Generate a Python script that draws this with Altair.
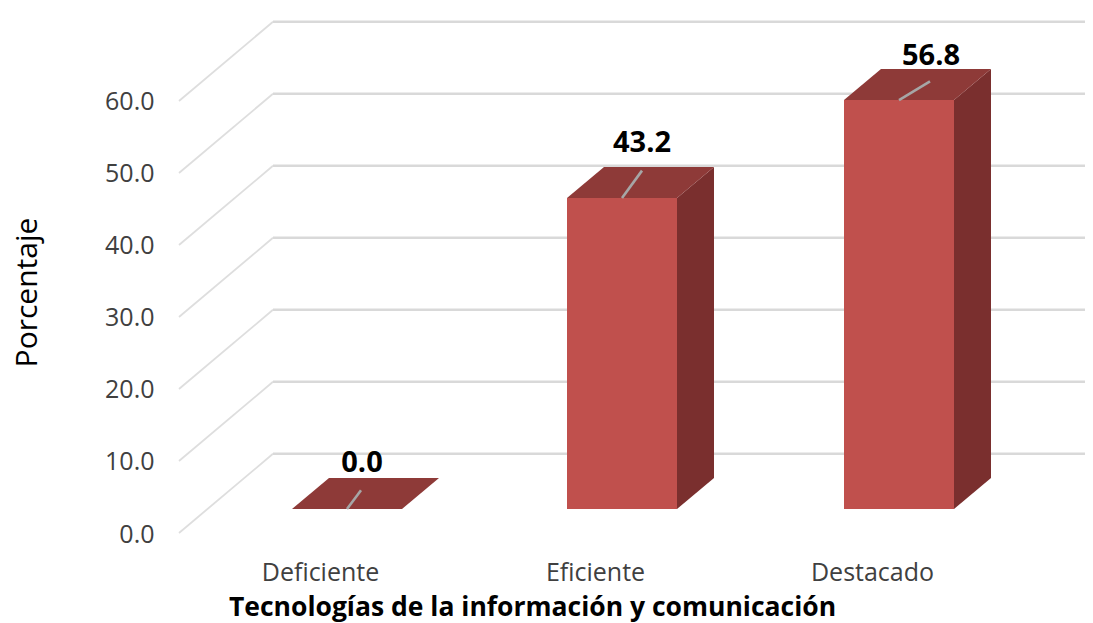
import altair as alt
import pandas as pd

# Chart values
categories = ["Deficiente", "Eficiente", "Destacado"]
values = [0.0, 43.2, 56.8]
tick_values = [0, 10, 20, 30, 40, 50, 60]
label_text = ["0.0", "43.2", "56.8"]

# 3D geometry in scale units (x units = horizontal slots, y units = percentage points)
bar_left = [113, 388, 665]
bar_width = 110
cat_label_x = [141, 416, 693]
depth_x = 37
depth_y = 4.3
floor_y = 3.33
wall_x = 94
wall_y = 11
x_end = 906
y_top = 71.11
leader_dx = [14, 20, 31]
leader_dy = [2.6, 3.8, 2.6]
label_x = [183, 463, 752]
label_y = [9.7, 54.1, 66.2]

FONT = "Open Sans"
x_scale = alt.Scale(domain=[0, x_end], range=[0, x_end], nice=False, zero=False)
y_scale = alt.Scale(domain=[0, y_top], nice=False, zero=False)

expr = "{" + ",".join(f"'{x}':'{c}'" for x, c in zip(cat_label_x, categories)) + "}[datum.value]"
x_axis = alt.Axis(
    values=cat_label_x, labelExpr=expr, domain=False, ticks=False, grid=False,
    labelFont=FONT, labelFontSize=25, labelColor="#404040", labelPadding=27,
    title="Tecnologías de la información y comunicación", titleFont=FONT, titleFontSize=26.5,
    titleFontWeight="bold", titleColor="#000000", titleX=353, titleY=61, labelFlush=False,
)
y_axis = alt.Axis(
    values=tick_values, format=".1f", domain=False, ticks=False, grid=False,
    labelFont=FONT, labelFontSize=25, labelColor="#404040", labelPadding=25, labelOffset=1,
    title="Porcentaje", titleFont=FONT, titleFontSize=30, titleFontWeight="normal",
    titleColor="#000000", titleX=-137, titleY=271,
)
X = alt.X("x:Q", scale=x_scale, axis=x_axis)
Y = alt.Y("y:Q", scale=y_scale, axis=y_axis)

grid_rows = []
for v in tick_values:
    grid_rows += [
        {"level": v, "x": 0, "y": v, "part": "slant"},
        {"level": v, "x": wall_x, "y": v + wall_y, "part": "slant"},
        {"level": v, "x": wall_x, "y": v + wall_y, "part": "wall"},
        {"level": v, "x": x_end, "y": v + wall_y, "part": "wall"},
    ]
grid_df = pd.DataFrame(grid_rows)

slant = alt.Chart(grid_df[grid_df.part == "slant"]).mark_line(color="#dedede", strokeWidth=1.8).encode(
    x=X, y=Y, detail="level:N",
)
wall = alt.Chart(grid_df[grid_df.part == "wall"]).mark_line(color="#d9d9d9", strokeWidth=2.4).encode(
    x=X, y=Y, detail="level:N",
)

front_df = pd.DataFrame({
    "cat": categories,
    "x": bar_left,
    "x2": [b + bar_width for b in bar_left],
    "y": [floor_y] * 3,
    "y2": [floor_y + v for v in values],
})
front = alt.Chart(front_df).mark_rect(color="#C0504D").encode(
    x=X, x2="x2:Q", y=Y, y2="y2:Q",
)

top_rows, side_rows, leader_rows = [], [], []
for c, b, v, ldx, ldy in zip(categories, bar_left, values, leader_dx, leader_dy):
    t = floor_y + v
    top_rows += [
        {"cat": c, "y": t, "x": b, "x2": b + bar_width},
        {"cat": c, "y": t + depth_y, "x": b + depth_x, "x2": b + bar_width + depth_x},
    ]
    r = b + bar_width
    side_rows += [
        {"cat": c, "x": r, "y": floor_y, "y2": t},
        {"cat": c, "x": r + depth_x, "y": floor_y + depth_y, "y2": t + depth_y},
    ]
    m = b + bar_width / 2
    leader_rows += [
        {"cat": c, "x": m, "y": t},
        {"cat": c, "x": m + ldx, "y": t + ldy},
    ]

top = alt.Chart(pd.DataFrame(top_rows)).mark_area(orient="horizontal", color="#8E3A38").encode(
    y=Y, x=X, x2="x2:Q", detail="cat:N",
)
side = alt.Chart(pd.DataFrame(side_rows)).mark_area(orient="vertical", color="#7A2F2E").encode(
    x=X, y=Y, y2="y2:Q", detail="cat:N",
)
leaders = alt.Chart(pd.DataFrame(leader_rows)).mark_line(color="#a6a6a6", strokeWidth=2.6).encode(
    x=X, y=Y, detail="cat:N",
)
labels = alt.Chart(pd.DataFrame({"x": label_x, "y": label_y, "t": label_text})).mark_text(
    font=FONT, fontSize=29, fontWeight="bold", color="#000000", align="center", baseline="middle",
).encode(
    x=X, y=Y, text="t:N",
)

chart = alt.layer(slant, wall, side, top, front, leaders, labels).properties(
    width=x_end, height=512,
    padding={"left": 171, "top": 13, "right": 0, "bottom": 90},
    autosize=alt.AutoSizeParams(type="none"),
).configure_view(stroke=None)

chart.save("out.html", embed_options={"renderer": "svg", "actions": False})
